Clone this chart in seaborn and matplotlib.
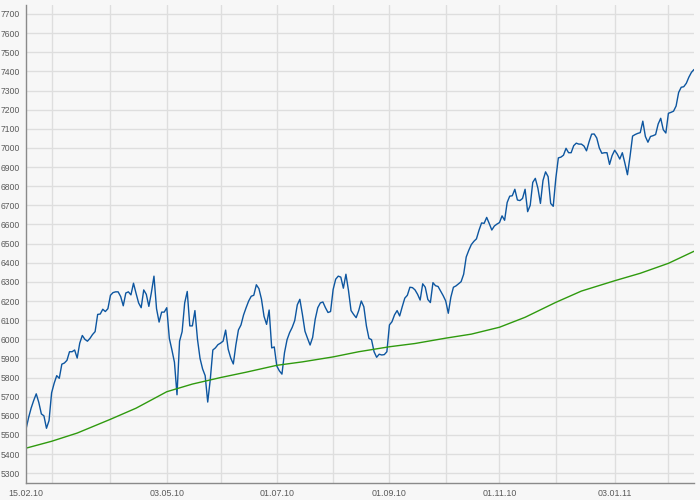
import numpy as np
import pandas as pd
import matplotlib
matplotlib.use("Agg")
import matplotlib.pyplot as plt
import seaborn as sns

# trading days shown on the axis (no gaps for weekends)
first_day = "2010-02-15"
last_day = "2011-02-15"

# daily close, one value per trading day
close = [
    5530, 5590, 5640, 5680, 5715, 5670, 5610, 5600, 5535, 5575,
    5720, 5770, 5810, 5796, 5870, 5876, 5890, 5935, 5935, 5944,
    5902, 5980, 6020, 6000, 5990, 6005, 6025, 6040, 6130, 6132,
    6157, 6145, 6160, 6230, 6244, 6248, 6248, 6223, 6175, 6242,
    6248, 6232, 6293, 6240, 6190, 6165, 6258, 6235, 6172, 6245,
    6330, 6160, 6090, 6142, 6142, 6165, 6005, 5945, 5880, 5710,
    5990, 6040, 6190, 6250, 6070, 6070, 6150, 6000, 5900, 5845,
    5810, 5672, 5790, 5944, 5955, 5972, 5980, 5990, 6048, 5948,
    5902, 5871, 5970, 6049, 6075, 6127, 6165, 6200, 6225, 6230,
    6285, 6265, 6210, 6120, 6078, 6153, 5955, 5960, 5860, 5835,
    5818, 5930, 5998, 6035, 6062, 6098, 6180, 6209, 6130, 6042,
    6005, 5970, 6010, 6105, 6165, 6190, 6195, 6165, 6140, 6145,
    6260, 6314, 6330, 6325, 6267, 6340, 6255, 6150, 6130, 6113,
    6150, 6200, 6170, 6070, 6005, 5998, 5935, 5906, 5922, 5918,
    5920, 5935, 6075, 6092, 6128, 6150, 6122, 6170, 6215, 6230,
    6272, 6270, 6258, 6235, 6205, 6290, 6272, 6208, 6192, 6296,
    6280, 6276, 6252, 6228, 6200, 6136, 6220, 6272, 6279, 6290,
    6301, 6340, 6430, 6465, 6495, 6512, 6525, 6570, 6608, 6606,
    6637, 6605, 6571, 6592, 6602, 6610, 6645, 6622, 6715, 6748,
    6750, 6784, 6728, 6725, 6736, 6784, 6667, 6700, 6820, 6841,
    6790, 6710, 6830, 6875, 6850, 6710, 6695, 6840, 6948, 6952,
    6962, 6998, 6975, 6975, 7012, 7025, 7020, 7020, 7010, 6985,
    7032, 7072, 7073, 7052, 7000, 6972, 6975, 6975, 6914, 6960,
    6988, 6968, 6942, 6975, 6920, 6860, 6955, 7062, 7070, 7076,
    7080, 7140, 7060, 7030, 7060, 7064, 7070, 7125, 7155, 7095,
    7078, 7181, 7186, 7192, 7219, 7290, 7317, 7320, 7338, 7370,
    7395, 7410,
]

# 200 day moving average, read at a few dates
ma_dates = ["2010-02-15", "2010-03-01", "2010-03-15", "2010-04-01", "2010-04-15",
            "2010-05-03", "2010-05-17", "2010-06-01", "2010-06-15", "2010-07-01",
            "2010-07-15", "2010-08-02", "2010-08-16", "2010-09-01", "2010-09-15",
            "2010-10-01", "2010-10-15", "2010-11-01", "2010-11-15", "2010-12-01",
            "2010-12-15", "2011-01-03", "2011-01-17", "2011-02-01", "2011-02-15"]
ma200 = [5431, 5467, 5510, 5582, 5640,
         5726, 5766, 5800, 5828, 5864,
         5882, 5908, 5935, 5961, 5978,
         6006, 6027, 6063, 6115, 6193,
         6252, 6306, 6345, 6397, 6460]

label_dates = ["2010-02-15", "2010-05-03", "2010-07-01", "2010-09-01", "2010-11-01", "2011-01-03"]
month_dates = ["2010-03-01", "2010-04-01", "2010-05-03", "2010-06-01", "2010-07-01", "2010-08-02",
               "2010-09-01", "2010-10-01", "2010-11-01", "2010-12-01", "2011-01-03", "2011-02-01"]
y_ticks = list(range(5300, 7800, 100))

dates = pd.bdate_range(first_day, last_day)
df = pd.DataFrame({"pos": np.arange(len(dates)), "close": close})
ma = pd.DataFrame({"pos": dates.get_indexer(pd.to_datetime(ma_dates)), "ma": ma200})

sns.set_theme(style="white")
plt.rcParams["font.family"] = ["Liberation Sans", "DejaVu Sans"]

bg = "#f7f7f7"
grid_col = "#dedede"
fig = plt.figure(figsize=(7.0, 5.0), dpi=100, facecolor=bg)
ax = fig.add_axes([26 / 700, 17 / 500, 668 / 700, 478 / 500])
ax.set_facecolor(bg)

sns.lineplot(data=df, x="pos", y="close", ax=ax, color="#0d56a0", linewidth=1.0)
sns.lineplot(data=ma, x="pos", y="ma", ax=ax, color="#2f9a0e", linewidth=1.0)

ax.set_xlim(0, len(dates) - 1)
ax.set_ylim(5249, 7747)

ax.set_yticks(y_ticks)
ax.set_yticklabels([str(v) for v in y_ticks])
ax.set_xticks(dates.get_indexer(pd.to_datetime(label_dates)))
ax.set_xticklabels([pd.Timestamp(d).strftime("%d.%m.%y") for d in label_dates])
ax.set_xticks(dates.get_indexer(pd.to_datetime(month_dates)), minor=True)
ax.xaxis.remove_overlapping_locs = False

ax.grid(True, axis="y", which="major", color=grid_col, linewidth=1.0)
ax.grid(True, axis="x", which="minor", color=grid_col, linewidth=1.0)
ax.set_axisbelow(True)

ax.tick_params(axis="y", which="major", length=4, width=0.8, color="#8a8a8a",
               labelsize=6.2, labelcolor="#5a5a5a", pad=0.5)
ax.tick_params(axis="x", which="major", length=0, labelsize=6.4, labelcolor="#5a5a5a", pad=4)
ax.tick_params(axis="x", which="minor", length=0)

for side in ["top", "right"]:
    ax.spines[side].set_visible(False)
for side in ["left", "bottom"]:
    ax.spines[side].set_color("#8a8a8a")
    ax.spines[side].set_linewidth(1.0)

ax.set_xlabel("")
ax.set_ylabel("")

fig.savefig("out.png", dpi=100, facecolor=bg)
